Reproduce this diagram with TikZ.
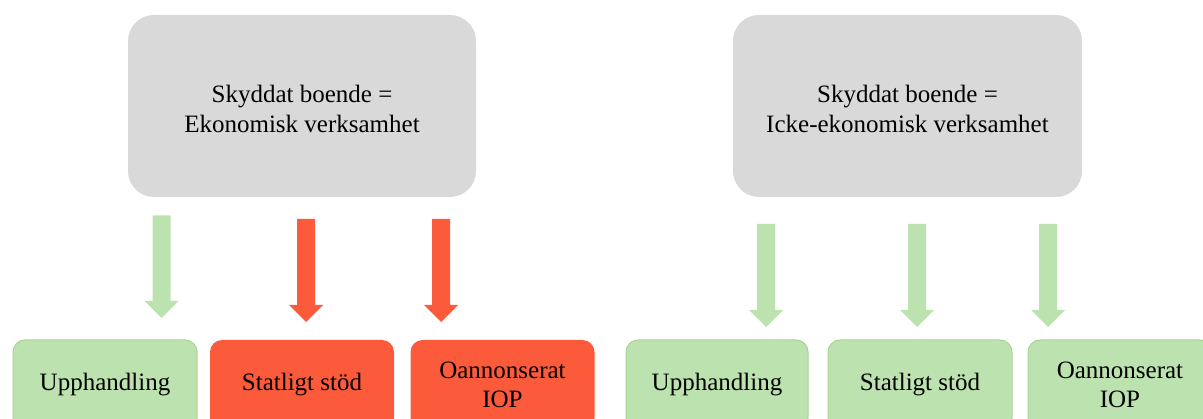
\documentclass[tikz,border=0pt]{standalone}
\usepackage{fontspec}
\setmainfont{Liberation Serif}
\usetikzlibrary{calc}
\definecolor{boxgray}{HTML}{D9D9D9}
\definecolor{lgreen}{HTML}{BCE2AF}
\definecolor{lgreenline}{HTML}{A9D592}
\definecolor{lred}{HTML}{FB5A3B}
\newcommand\blockarr[3]{%
  \fill[#1] ($(#2)+(-9,0)$) -- ($(#2)+(9,0)$) -- ($(#3)+(9,-17)$) -- ($(#3)+(17,-17)$)
    -- (#3) -- ($(#3)+(-17,-17)$) -- ($(#3)+(-9,-17)$) -- cycle;}
\begin{document}
\begin{tikzpicture}[x=1pt,y=-1pt,
  every node/.style={font=\fontsize{25}{29.5}\selectfont, align=center, inner sep=0pt},
  topbox/.style={fill=boxgray, rounded corners=26pt, minimum height=182pt},
  toptext/.style={label={[yshift=-3pt, align=center, font=\fontsize{25}{29.5}\selectfont]center:#1}},
  greenbox/.style={fill=lgreen, draw=lgreenline, line width=1pt, rounded corners=12pt, minimum width=184pt, minimum height=90pt},
  redbox/.style={fill=lred, rounded corners=12pt, minimum width=184pt, minimum height=90pt}]
\clip (0,0) rectangle (1203,419);
\fill[white] (0,0) rectangle (1203,419);
% top boxes
\node[topbox, minimum width=348pt, toptext={Skyddat boende =\\Ekonomisk verksamhet}] (t1) at (302,106) {};
\node[topbox, minimum width=349pt, toptext={Skyddat boende =\\Icke-ekonomisk verksamhet}] (t2) at (907.5,106) {};
% bottom boxes
\node[greenbox] (b1) at (105,385) {Upphandling};
\node[redbox] (b2) at (302,385) {Statligt stöd};
\node[redbox] (b3) at (502.5,385) {Oannonserat\\IOP};
\node[greenbox, minimum width=182pt] (b4) at (717,385) {Upphandling};
\node[greenbox] (b5) at (920,385) {Statligt stöd};
\node[greenbox] (b6) at (1120,385) {Oannonserat\\IOP};
% arrows
\coordinate (a1s) at (161.7,215.5); \coordinate (a1e) at (161.7,318);
\coordinate (a2s) at (306,219);     \coordinate (a2e) at (306,322);
\coordinate (a3s) at (441,219);     \coordinate (a3e) at (441,322);
\coordinate (a4s) at (766,224);     \coordinate (a4e) at (766,327);
\coordinate (a5s) at (917,224);     \coordinate (a5e) at (917,327);
\coordinate (a6s) at (1048,224);    \coordinate (a6e) at (1048,327);
\blockarr{lgreen}{a1s}{a1e}
\blockarr{lred}{a2s}{a2e}
\blockarr{lred}{a3s}{a3e}
\blockarr{lgreen}{a4s}{a4e}
\blockarr{lgreen}{a5s}{a5e}
\blockarr{lgreen}{a6s}{a6e}
\end{tikzpicture}
\end{document}
